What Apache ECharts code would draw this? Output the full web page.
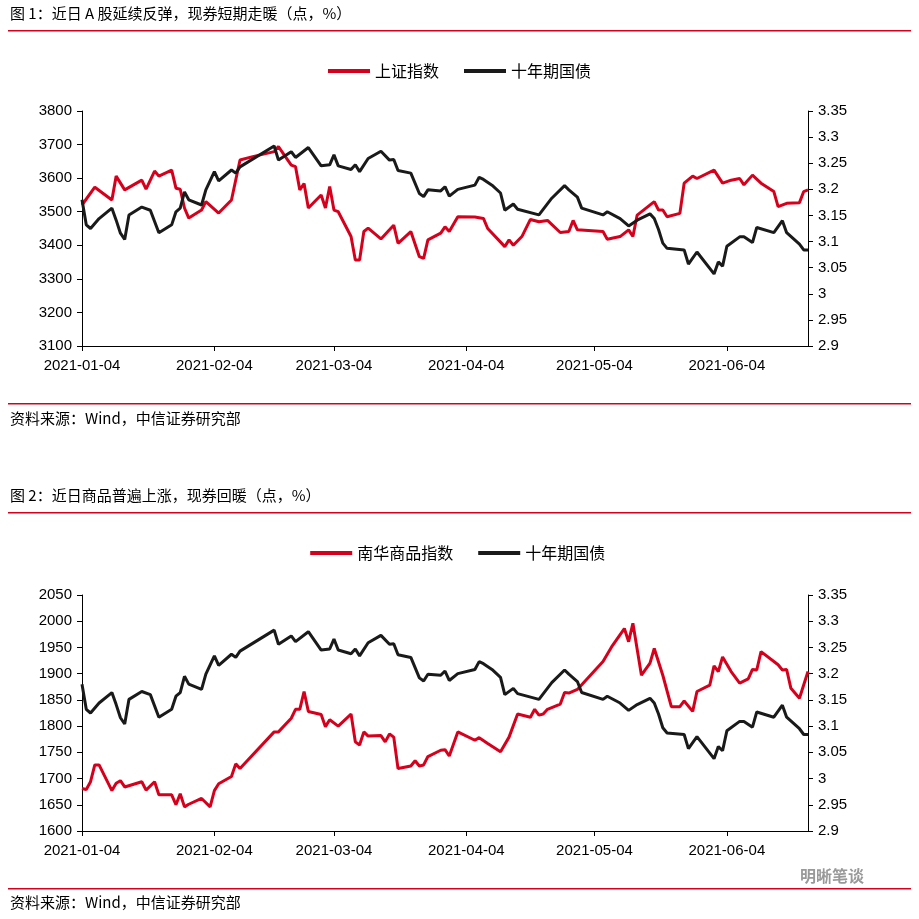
<!DOCTYPE html>
<html><head><meta charset="utf-8">
<script src="https://cdn.jsdelivr.net/npm/echarts@6/dist/echarts.min.js"></script>
<style>html,body{margin:0;padding:0;background:#fff}#c{width:919px;height:919px}</style>
</head><body><div id="c"></div>
<script>
// day offsets from 2021-01-04
const startDate = '2021-01-04', dayCount = 171;
const xTickLabels = ['2021-01-04','2021-02-04','2021-03-04','2021-04-04','2021-05-04','2021-06-04'];
const shIndex = [[0,3520],[3,3573],[7,3535],[8,3606],[10,3565],[14,3594],[15,3567],[17,3621],[18,3606],[21,3624],[22,3570],[23,3567],[24,3511],[25,3481],[28,3505],[29,3530],[32,3496],[35,3535],[37,3654],[40,3664],[45,3679],[46,3694],[49,3639],[50,3634],[51,3565],[52,3584],[53,3511],[56,3550],[57,3511],[58,3575],[59,3505],[60,3500],[63,3426],[64,3356],[65,3356],[66,3441],[67,3451],[70,3419],[72,3446],[73,3460],[74,3406],[77,3441],[79,3366],[80,3361],[81,3416],[84,3436],[85,3455],[86,3441],[88,3485],[92,3484],[94,3480],[95,3450],[99,3396],[100,3416],[101,3400],[103,3426],[105,3477],[107,3470],[109,3474],[112,3438],[114,3441],[115,3474],[116,3446],[122,3441],[123,3418],[126,3426],[128,3446],[129,3426],[130,3490],[134,3530],[135,3505],[136,3505],[137,3485],[140,3495],[141,3585],[143,3606],[144,3599],[148,3624],[150,3585],[152,3594],[154,3599],[155,3580],[157,3609],[159,3585],[162,3560],[163,3515],[165,3525],[168,3527],[169,3560],[170,3565]];
const bond10y = [[0,3.180],[1,3.132],[2,3.125],[4,3.144],[7,3.164],[8,3.141],[9,3.116],[10,3.104],[11,3.151],[14,3.166],[16,3.160],[18,3.117],[21,3.132],[22,3.157],[23,3.164],[24,3.195],[25,3.180],[28,3.170],[29,3.199],[31,3.234],[32,3.216],[35,3.237],[36,3.231],[37,3.243],[45,3.283],[46,3.256],[49,3.272],[50,3.261],[53,3.280],[56,3.245],[58,3.247],[59,3.266],[60,3.245],[63,3.238],[64,3.247],[65,3.234],[67,3.259],[70,3.273],[72,3.256],[73,3.257],[74,3.236],[77,3.231],[79,3.192],[80,3.186],[81,3.199],[84,3.197],[85,3.205],[86,3.187],[88,3.200],[92,3.208],[93,3.223],[94,3.219],[96,3.208],[98,3.193],[99,3.160],[101,3.172],[102,3.162],[107,3.151],[110,3.183],[113,3.207],[114,3.199],[116,3.185],[117,3.164],[122,3.151],[123,3.157],[126,3.144],[128,3.130],[130,3.141],[133,3.153],[134,3.144],[135,3.123],[136,3.097],[137,3.087],[141,3.084],[142,3.057],[144,3.080],[148,3.038],[149,3.061],[150,3.053],[151,3.091],[154,3.109],[155,3.109],[157,3.098],[158,3.127],[162,3.117],[164,3.140],[165,3.117],[168,3.095],[169,3.084],[170,3.084]];
const nhIndex = [[0,1681],[1,1679],[2,1694],[3,1726],[4,1726],[7,1677],[8,1691],[9,1696],[10,1684],[14,1694],[15,1678],[17,1694],[18,1669],[21,1669],[22,1650],[23,1671],[24,1646],[25,1651],[28,1662],[30,1646],[31,1677],[32,1690],[35,1704],[36,1728],[37,1719],[45,1789],[46,1789],[49,1815],[50,1832],[51,1832],[52,1866],[53,1828],[56,1822],[57,1799],[58,1812],[60,1800],[63,1823],[64,1770],[65,1764],[66,1789],[67,1781],[70,1782],[71,1770],[72,1785],[73,1779],[74,1719],[77,1724],[78,1734],[79,1724],[80,1726],[81,1742],[84,1754],[85,1755],[86,1743],[88,1789],[92,1773],[93,1778],[95,1767],[98,1751],[100,1779],[102,1823],[105,1817],[106,1832],[107,1821],[108,1823],[109,1832],[112,1842],[113,1864],[114,1863],[116,1870],[122,1923],[124,1951],[127,1986],[128,1961],[129,1996],[131,1897],[133,1920],[134,1948],[136,1897],[138,1837],[140,1837],[141,1848],[143,1828],[144,1866],[147,1878],[148,1915],[149,1904],[150,1932],[152,1904],[154,1882],[156,1890],[157,1908],[158,1907],[159,1942],[163,1917],[164,1907],[165,1908],[166,1872],[168,1853],[170,1904]];

const cats = [];
{ const d0 = new Date(startDate + 'T00:00:00Z');
  for (let i = 0; i < dayCount; i++) { const d = new Date(d0.getTime() + i*86400000); cats.push(d.toISOString().slice(0,10)); } }
const RED = '#d6001c', BLK = '#1a1a1a';
const numFont = {fontFamily:'Liberation Sans, Arial', fontSize:15, color:'#000'};
const isTick = (i, v) => xTickLabels.indexOf(v) >= 0;
function xAx(gi){return {type:'category',gridIndex:gi,data:cats,boundaryGap:false,
  axisLine:{lineStyle:{color:'#000',width:1}},axisTick:{interval:isTick,length:5,lineStyle:{color:'#000'}},
  axisLabel:Object.assign({interval:isTick,margin:12},numFont),splitLine:{show:false}};}
function yAx(gi,pos,min,max,iv){return {type:'value',gridIndex:gi,position:pos,min:min,max:max,interval:iv,
  axisLine:{show:true,lineStyle:{color:'#000',width:1}},axisTick:{show:true,length:5,lineStyle:{color:'#000'}},
  axisLabel:Object.assign({margin:10,formatter:v=>String(+v.toFixed(2))},numFont),splitLine:{show:false}};}
function ln(name,data,xi,yi,color){return {name:name,type:'line',data:data,xAxisIndex:xi,yAxisIndex:yi,
  showSymbol:false,symbol:'none',lineStyle:{color:color,width:3},itemStyle:{color:color},animation:false};}
const cjk = 'Noto Sans CJK SC, sans-serif';
const chart = echarts.init(document.getElementById('c'));
chart.setOption({
  animation:false,
  textStyle:{fontFamily:cjk},
  legend:[
    {top:58,left:'center',itemWidth:42,itemHeight:4,itemGap:25,icon:'rect',textStyle:{fontFamily:cjk,fontSize:16,color:'#000'},data:['上证指数','十年期国债']},
    {top:540,left:'center',itemWidth:42,itemHeight:4,itemGap:25,icon:'rect',textStyle:{fontFamily:cjk,fontSize:16,color:'#000'},data:['南华商品指数','十年期国债 ']}
  ],
  grid:[{left:82,right:111,top:111,height:235},{left:82,right:111,top:595,height:236}],
  xAxis:[xAx(0),xAx(1)],
  yAxis:[yAx(0,'left',3100,3800,100),yAx(0,'right',2.9,3.35,0.05),yAx(1,'left',1600,2050,50),yAx(1,'right',2.9,3.35,0.05)],
  series:[ln('上证指数',shIndex,0,0,RED),ln('十年期国债',bond10y,0,1,BLK),ln('南华商品指数',nhIndex,1,2,RED),ln('十年期国债 ',bond10y,1,3,BLK)],
  graphic:[
    {type:'text',left:10,top:6,style:{text:'图 1：近日 A 股延续反弹，现券短期走暖（点，%）',font:'15px '+cjk,fill:'#000'}},
    {type:'rect',shape:{x:8,y:30,width:903,height:1.5},style:{fill:RED}},
    {type:'rect',shape:{x:8,y:403,width:903,height:1.5},style:{fill:RED}},
    {type:'text',left:10,top:411,style:{text:'资料来源：Wind，中信证券研究部',font:'15px '+cjk,fill:'#000'}},
    {type:'text',left:10,top:488,style:{text:'图 2：近日商品普遍上涨，现券回暖（点，%）',font:'15px '+cjk,fill:'#000'}},
    {type:'rect',shape:{x:8,y:512,width:903,height:1.5},style:{fill:RED}},
    {type:'rect',shape:{x:8,y:888,width:903,height:1.5},style:{fill:RED}},
    {type:'text',left:10,top:895,style:{text:'资料来源：Wind，中信证券研究部',font:'15px '+cjk,fill:'#000'}},
    {type:'text',left:800,top:868,style:{text:'明晰笔谈',font:'bold 16px '+cjk,fill:'#999'}}
  ]
});
</script></body></html>
